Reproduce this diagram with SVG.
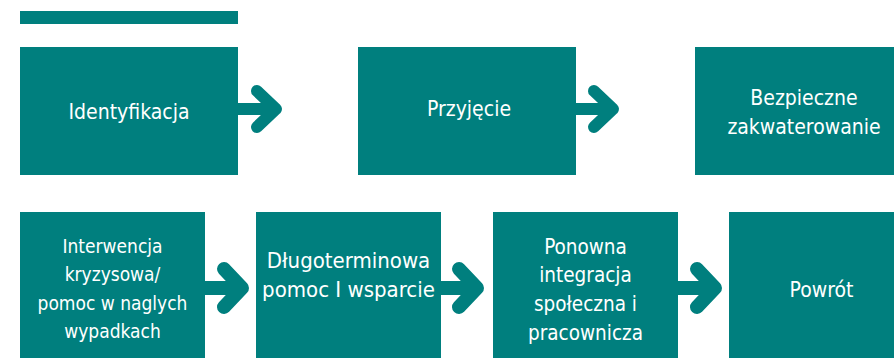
<svg xmlns="http://www.w3.org/2000/svg" width="894" height="358" viewBox="0 0 894 358">
<style>
.box{fill:#007f7e}
.t{fill:#ffffff;font-family:"DejaVu Sans Condensed","DejaVu Sans",sans-serif;font-stretch:condensed;text-anchor:middle}
.f21{font-size:21px}
.f22{font-size:22px}
.f19{font-size:19px}
.f20{font-size:20.5px}
.arr{fill:none;stroke:#007f7e;stroke-linecap:round;stroke-linejoin:round}
.a1{stroke-width:12}
.a2{stroke-width:14}
</style>
<rect x="20" y="11" width="218" height="13" class="box"/>
<g id="connectors">
<path class="arr a1" d="M238 109 H274 M257 91 L276 109 L257 127"/>
<path class="arr a1" d="M576 109 H611 M594 91 L613 109 L594 127"/>
<path class="arr a2" d="M205 288 H240 M224 269 L242 288 L224 307"/>
<path class="arr a2" d="M441 288 H475 M459 269 L477 288 L459 307"/>
<path class="arr a2" d="M678 288 H713 M697 269 L715 288 L697 307"/>
</g>
<g id="n1"><rect class="box" x="20" y="47" width="218" height="128"/><text class="t f21" x="129" y="119">Identyfikacja</text></g>
<g id="n2"><rect class="box" x="358" y="47" width="218" height="128"/><text class="t f21" x="469" y="116">Przyjęcie</text></g>
<g id="n3"><rect class="box" x="695" y="47" width="218" height="128"/><text class="t f21" x="804" y="105">Bezpieczne</text><text class="t f21" x="804" y="134">zakwaterowanie</text></g>
<g id="n4"><rect class="box" x="20" y="212" width="185" height="146"/><text class="t f19" x="112.5" y="253">Interwencja</text><text class="t f19" x="112.5" y="281">kryzysowa/</text><text class="t f19" x="112.5" y="310">pomoc w naglych</text><text class="t f19" x="112.5" y="338">wypadkach</text></g>
<g id="n5"><rect class="box" x="256" y="212" width="185" height="146"/><text class="t f22" x="348.5" y="268">Długoterminowa</text><text class="t f22" x="348.5" y="297">pomoc I wsparcie</text></g>
<g id="n6"><rect class="box" x="493" y="212" width="185" height="146"/><text class="t f20" x="585.5" y="254">Ponowna</text><text class="t f20" x="585.5" y="282">integracja</text><text class="t f20" x="585.5" y="311">społeczna i</text><text class="t f20" x="585.5" y="340">pracownicza</text></g>
<g id="n7"><rect class="box" x="729" y="212" width="185" height="146"/><text class="t f21" x="821.5" y="297">Powrót</text></g>
</svg>
